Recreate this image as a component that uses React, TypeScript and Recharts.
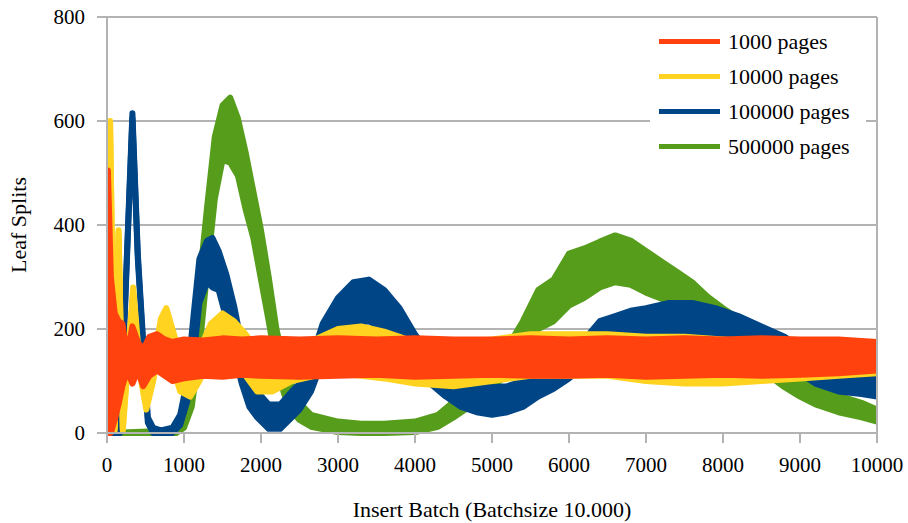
import {
  ComposedChart,
  Area,
  XAxis,
  YAxis,
  CartesianGrid,
  ReferenceLine,
  Legend,
} from "recharts";

// Leaf splits per insert batch, read as the low/high edge of each noisy band.
const pages1000Batch = [0, 12, 50, 100, 150, 200, 260, 330, 400, 470, 550, 650, 750, 850, 1000, 1250, 1500, 1750, 2000, 2500, 3000, 3500, 4000, 4500, 5000, 5500, 6000, 6500, 7000, 7500, 8000, 8500, 9000, 9500, 10000];
const pages1000Low = [0, 0, 0, 25, 55, 90, 120, 95, 120, 90, 110, 120, 110, 100, 105, 110, 108, 112, 110, 108, 110, 112, 108, 110, 112, 110, 110, 112, 108, 110, 112, 110, 112, 115, 120];
const pages1000High = [0, 505, 300, 230, 215, 210, 150, 205, 175, 160, 185, 190, 180, 175, 180, 178, 182, 180, 182, 180, 182, 180, 182, 180, 180, 182, 180, 182, 180, 182, 180, 182, 180, 180, 175];

const pages10000Batch = [0, 40, 100, 150, 205, 340, 420, 510, 600, 700, 770, 850, 950, 1080, 1200, 1350, 1500, 1650, 1800, 1950, 2150, 2400, 2700, 3000, 3300, 3600, 4000, 4500, 5000, 5500, 6000, 6500, 7000, 7500, 8000, 8500, 9000, 9500, 10000];
const pages10000Low = [0, 595, 5, 385, 5, 270, 120, 45, 100, 190, 200, 130, 80, 70, 100, 150, 175, 150, 110, 80, 80, 100, 110, 115, 110, 105, 95, 90, 100, 110, 110, 110, 100, 95, 95, 100, 105, 110, 115];
const pages10000High = [0, 600, 10, 390, 10, 280, 140, 60, 130, 220, 240, 200, 150, 130, 160, 210, 230, 215, 190, 160, 150, 150, 180, 200, 205, 195, 175, 175, 180, 190, 190, 190, 185, 185, 180, 175, 170, 170, 170];

const pages100000Batch = [0, 170, 250, 330, 400, 530, 600, 700, 850, 950, 1040, 1120, 1200, 1300, 1370, 1450, 1550, 1650, 1750, 1850, 1950, 2100, 2250, 2400, 2500, 2650, 2800, 3000, 3200, 3400, 3600, 3800, 4000, 4200, 4400, 4600, 4800, 5000, 5200, 5400, 5600, 5800, 6000, 6200, 6400, 6600, 6800, 7000, 7300, 7600, 7900, 8200, 8500, 8800, 9000, 9200, 9500, 9800, 10000];
const pages100000Low = [0, 0, 300, 605, 335, 20, 0, 0, 0, 15, 60, 140, 250, 290, 280, 275, 220, 155, 95, 50, 30, 8, 8, 30, 45, 80, 140, 190, 210, 215, 200, 160, 130, 95, 70, 50, 40, 35, 40, 50, 70, 85, 105, 130, 160, 180, 185, 190, 190, 185, 180, 170, 150, 130, 115, 95, 80, 75, 70];
const pages100000High = [0, 5, 310, 615, 345, 30, 10, 5, 10, 35, 100, 220, 335, 370, 375, 350, 305, 245, 170, 115, 80, 55, 55, 80, 95, 140, 210, 260, 290, 295, 275, 240, 190, 150, 120, 100, 90, 88, 90, 100, 115, 130, 150, 180, 215, 225, 235, 240, 250, 250, 240, 225, 205, 185, 165, 140, 125, 120, 125];

const pages500000Batch = [0, 900, 1000, 1100, 1200, 1300, 1400, 1500, 1600, 1700, 1800, 1900, 2000, 2100, 2200, 2300, 2400, 2500, 2650, 3000, 3300, 3600, 4000, 4300, 4500, 4800, 5000, 5200, 5400, 5600, 5800, 6000, 6200, 6400, 6600, 6800, 7000, 7200, 7400, 7600, 7800, 8000, 8200, 8400, 8600, 8800, 9000, 9200, 9500, 9800, 10000];
const pages500000Low = [0, 0, 10, 50, 160, 310, 450, 525, 520, 495, 430, 375, 295, 215, 130, 75, 42, 25, 12, 2, 0, 0, 2, 12, 30, 60, 85, 115, 155, 200, 215, 245, 260, 280, 290, 285, 270, 258, 250, 230, 210, 180, 160, 140, 110, 88, 70, 55, 40, 30, 22];
const pages500000High = [0, 5, 30, 125, 290, 435, 570, 630, 645, 605, 540, 465, 390, 300, 200, 135, 92, 58, 35, 22, 18, 18, 22, 35, 60, 95, 120, 165, 215, 275, 295, 345, 355, 368, 380, 370, 350, 330, 310, 290, 262, 240, 220, 195, 165, 125, 105, 90, 72, 58, 45];

const xTicks = [0, 1000, 2000, 3000, 4000, 5000, 6000, 7000, 8000, 9000, 10000];
const yTicks = [0, 200, 400, 600, 800];

const FONT = '"Liberation Serif", "Times New Roman", serif';
const GRID = "#b3b3b3";

function toBand(batches: number[], lows: number[], highs: number[]) {
  return batches.map((batch, i) => ({ batch, band: [lows[i], highs[i]] }));
}

// drawn bottom to top; legend lists them in reverse
const series = [
  { name: "500000 pages", color: "#579d1c", data: toBand(pages500000Batch, pages500000Low, pages500000High) },
  { name: "100000 pages", color: "#004586", data: toBand(pages100000Batch, pages100000Low, pages100000High) },
  { name: "10000 pages", color: "#ffd320", data: toBand(pages10000Batch, pages10000Low, pages10000High) },
  { name: "1000 pages", color: "#ff420e", data: toBand(pages1000Batch, pages1000Low, pages1000High) },
];

function XTick({ x, y, payload }: any) {
  return (
    <text x={x} y={y} dy="0.71em" textAnchor="middle" fontFamily={FONT} fontSize={21} fill="#000">
      {payload.value}
    </text>
  );
}

function YTick({ x, y, payload }: any) {
  return (
    <text x={x} y={y} dy="0.355em" textAnchor="end" fontFamily={FONT} fontSize={21} fill="#000">
      {payload.value}
    </text>
  );
}

function LegendBox() {
  return (
    <div style={{ background: "#fff", padding: "4px 0", fontFamily: FONT, fontSize: 22, color: "#000" }}>
      {[...series].reverse().map((s) => (
        <div key={s.name} style={{ display: "flex", alignItems: "center", height: 35 }}>
          <span style={{ display: "inline-block", width: 61, height: 5, marginLeft: 9, marginRight: 8, background: s.color }} />
          <span>{s.name}</span>
        </div>
      ))}
    </div>
  );
}

export default function App() {
  return (
    <div style={{ position: "absolute", left: 0, top: 0, background: "#fff", fontFamily: FONT }}>
      <ComposedChart width={908} height={523} margin={{ top: 17, right: 31, left: 0, bottom: 0 }}>
        <CartesianGrid vertical={false} stroke={GRID} strokeWidth={2} />
        <XAxis
          type="number"
          dataKey="batch"
          domain={[0, 10000]}
          ticks={xTicks}
          allowDataOverflow
          height={90}
          tickSize={10}
          tickMargin={14}
          tick={<XTick />}
          tickLine={{ stroke: GRID, strokeWidth: 2 }}
          axisLine={{ stroke: GRID, strokeWidth: 2 }}
          label={{ value: "Insert Batch (Batchsize 10.000)", position: "insideBottom", offset: 6, style: { fontFamily: FONT, fontSize: 22, fill: "#000" } }}
        />
        <YAxis
          type="number"
          domain={[0, 800]}
          ticks={yTicks}
          width={107}
          tickSize={10}
          tickMargin={12}
          tick={<YTick />}
          tickLine={{ stroke: GRID, strokeWidth: 2 }}
          axisLine={{ stroke: GRID, strokeWidth: 2 }}
          label={{ value: "Leaf Splits", angle: -90, position: "insideLeft", offset: 18, style: { textAnchor: "middle", fontFamily: FONT, fontSize: 22, fill: "#000" } }}
        />
        <ReferenceLine x={10000} stroke={GRID} strokeWidth={2} />
        {series.map((s) => (
          <Area
            key={s.name}
            name={s.name}
            data={s.data}
            dataKey="band"
            type="linear"
            stroke={s.color}
            strokeWidth={6}
            strokeLinejoin="round"
            fill={s.color}
            fillOpacity={1}
            dot={false}
            activeDot={false}
            isAnimationActive={false}
          />
        ))}
        <Legend
          layout="horizontal"
          align="center"
          verticalAlign="middle"
          wrapperStyle={{ left: 650, top: 20, width: 216 }}
          content={() => <LegendBox />}
        />
      </ComposedChart>
    </div>
  );
}
